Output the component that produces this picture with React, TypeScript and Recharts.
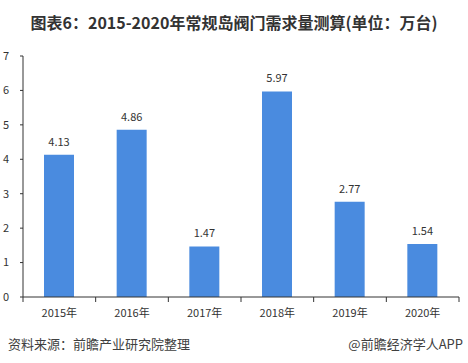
import { BarChart, Bar, XAxis, YAxis, LabelList } from 'recharts'

const years = ['2015年', '2016年', '2017年', '2018年', '2019年', '2020年']
const demand = [4.13, 4.86, 1.47, 5.97, 2.77, 1.54]
const yTicks = [0, 1, 2, 3, 4, 5, 6, 7]

const W = 468
const H = 363
const X_H = 30
const M = { top: 56, right: 9, bottom: 66 - X_H, left: 0 }
const Y_W = 23
const BAND = (W - M.left - M.right - Y_W) / years.length

const data = years.map((y, i) => ({ year: y, value: demand[i] }))

const font = '"Microsoft YaHei", "Noto Sans CJK SC", sans-serif'

function YearTick(props: any) {
  const { x, y, payload, index } = props
  const left = x - BAND / 2
  const right = x + BAND / 2
  return (
    <g>
      <line x1={left} y1={y - 8} x2={left} y2={y - 3} stroke="#333" />
      {index === years.length - 1 && <line x1={right} y1={y - 8} x2={right} y2={y - 3} stroke="#333" />}
      <text x={x} y={y + 12} textAnchor="middle" fontSize={11} fill="#333" fontFamily={font}>
        {payload.value}
      </text>
    </g>
  )
}

export default function App() {
  return (
    <div style={{ position: 'absolute', left: 0, top: 0, width: W, height: H, background: '#fff', fontFamily: font }}>
      <div style={{ position: 'absolute', top: 10, left: 0, width: W, textAlign: 'center', fontSize: 16, fontWeight: 'bold', color: '#333' }}>
        图表6：2015-2020年常规岛阀门需求量测算(单位：万台)
      </div>
      <BarChart width={W} height={H} data={data} margin={M}>
        <YAxis
          width={Y_W}
          domain={[0, 7]}
          ticks={yTicks}
          interval={0}
          tickSize={3}
          tickMargin={11}
          axisLine={{ stroke: '#333' }}
          tickLine={{ stroke: '#333' }}
          tick={{ fontSize: 11, fill: '#333' }}
        />
        <XAxis
          dataKey="year"
          height={X_H}
          axisLine={{ stroke: '#333' }}
          tickLine={false}
          tick={<YearTick />}
          interval={0}
        />
        <Bar dataKey="value" fill="#4A8BDF" barSize={30} isAnimationActive={false}>
          <LabelList dataKey="value" position="top" offset={9} fontSize={11} fill="#333" formatter={(v: any) => Number(v).toFixed(2)} />
        </Bar>
      </BarChart>
      <div style={{ position: 'absolute', top: 334, left: 8, fontSize: 13, color: '#404040' }}>资料来源：前瞻产业研究院整理</div>
      <div style={{ position: 'absolute', top: 334, right: 5, fontSize: 13, color: '#404040' }}>@前瞻经济学人APP</div>
    </div>
  )
}
